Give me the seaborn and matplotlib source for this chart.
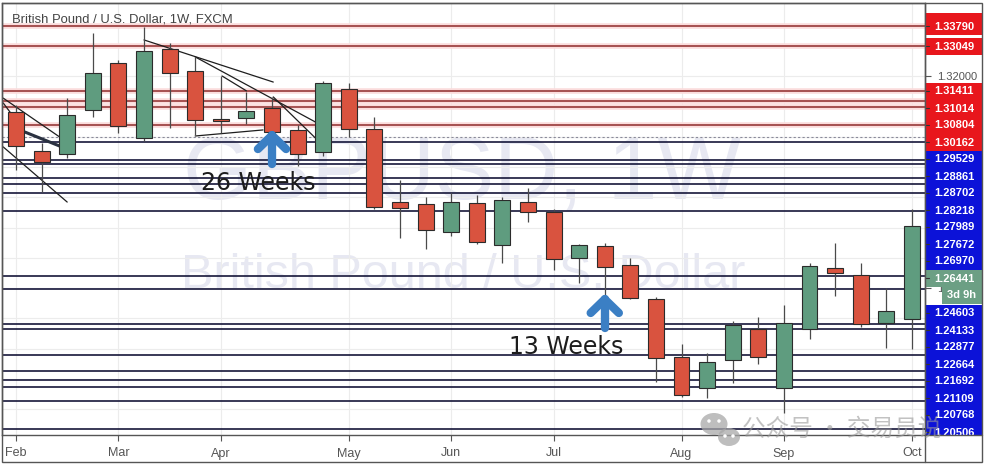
import numpy as np
import pandas as pd
import matplotlib
matplotlib.use("Agg")
import matplotlib.pyplot as plt
from matplotlib.patches import Rectangle, Ellipse
import seaborn as sns

# Weekly GBP/USD candles, Feb - Oct
opens = [1.3081, 1.2953, 1.2943, 1.3088, 1.3243, 1.2995, 1.3289, 1.3217, 1.3058,
         1.3061, 1.3094, 1.3022, 1.2949, 1.3157, 1.3025, 1.2784, 1.2778, 1.2685,
         1.2781, 1.2642, 1.2784, 1.2751, 1.2599, 1.2639, 1.2576, 1.2464, 1.2273,
         1.2170, 1.2263, 1.2365, 1.2170, 1.2365, 1.2566, 1.2543, 1.2385, 1.2398]
highs = [1.3104, 1.2979, 1.3127, 1.3342, 1.3253, 1.3362, 1.3309, 1.3263, 1.3200,
         1.3147, 1.3131, 1.3038, 1.3184, 1.3177, 1.3065, 1.2857, 1.2801, 1.2814,
         1.2807, 1.2801, 1.2830, 1.2761, 1.2646, 1.2649, 1.2599, 1.2471, 1.2316,
         1.2286, 1.2392, 1.2405, 1.2444, 1.2583, 1.2649, 1.2583, 1.2500, 1.2761]
lows = [1.2890, 1.2817, 1.2929, 1.3065, 1.3012, 1.2986, 1.3028, 1.3005, 1.3012,
        1.3042, 1.3012, 1.2903, 1.2936, 1.2999, 1.2761, 1.2665, 1.2629, 1.2672,
        1.2646, 1.2583, 1.2718, 1.2560, 1.2517, 1.2471, 1.2464, 1.2190, 1.2141,
        1.2137, 1.2187, 1.2250, 1.2088, 1.2332, 1.2474, 1.2372, 1.2302, 1.2299]
closes = [1.2969, 1.2916, 1.3071, 1.3210, 1.3035, 1.3283, 1.3210, 1.3055, 1.3052,
          1.3085, 1.3015, 1.2943, 1.3177, 1.3025, 1.2768, 1.2764, 1.2692, 1.2784,
          1.2652, 1.2791, 1.2751, 1.2596, 1.2642, 1.2570, 1.2467, 1.2269, 1.2147,
          1.2256, 1.2378, 1.2273, 1.2385, 1.2573, 1.2550, 1.2382, 1.2425, 1.2705]
week_start = pd.date_range("2019-02-04", periods=len(opens), freq="W-MON")

# horizontal levels drawn on the chart
resistance_levels = [1.3365, 1.3299, 1.3151, 1.3118, 1.3098, 1.3038]
support_levels = [1.2982, 1.2923, 1.2910, 1.2863, 1.2844, 1.2814, 1.2755, 1.2540,
                  1.2497, 1.2382, 1.2365, 1.2279, 1.2227, 1.2197, 1.2174, 1.2128, 1.2035]
dotted_level = 1.2999

# price labels stacked on the right scale
red_top_labels = ["1.33790", "1.33049"]
red_block_labels = ["1.31411", "1.31014", "1.30804", "1.30162"]
blue_block_labels = ["1.29529", "1.28861", "1.28702", "1.28218", "1.27989", "1.27672", "1.26970"]
last_price_label = "1.26441"
countdown_label = "3d 9h"
blue_low_labels = ["1.24603", "1.24133", "1.22877", "1.22664", "1.21692", "1.21109", "1.20768", "1.20506"]
shown_ticks = [1.32, 1.25]   # the only scale ticks not hidden under labels

# hand drawn trend lines: (x0, y0, x1, y1) in bar index / price
trend_thin = [(5.0, 1.3319, 10.05, 1.3180), (7.0, 1.3263, 11.7, 1.3048),
              (8.05, 1.3200, 9.0, 1.3151), (10.05, 1.3131, 11.7, 1.2995),
              (7.0, 1.3002, 9.65, 1.3022), (-0.5, 1.3127, 1.7, 1.2999),
              (-0.5, 1.3111, 0.35, 1.3015), (-0.5, 1.2966, 2.0, 1.2784)]
trend_thick = [(0.35, 1.3015, 1.7, 1.2969)]

# arrow annotations: bar index, text, text offset in bars
notes = [(10, "26 Weeks", -0.55), (23, "13 Weeks", -1.5)]

RED, GREEN = "#d9533f", "#5f9c7f"
LBL_RED, LBL_BLUE, LBL_GREEN = "#e8161c", "#0c12d8", "#6c9f84"

sns.set_theme(style="white")
plt.rcParams["font.family"] = ["Liberation Sans", "Noto Sans CJK SC", "DejaVu Sans"]

W, H = 985, 467
fig = plt.figure(figsize=(W / 100, H / 100), dpi=100)
ax = fig.add_axes([2 / W, (H - 435) / H, 923 / W, 432 / H])

x = np.arange(len(opens))
o, h, l, c = map(np.array, (opens, highs, lows, closes))
up = c >= o

# watermark
wm = "#e7e8f2"
ax.text(0.498, 0.60, "GBPUSD, 1W", transform=ax.transAxes, fontsize=64, color=wm,
        ha="center", va="center", zorder=0)
ax.text(0.50, 0.37, "British Pound / U.S. Dollar", transform=ax.transAxes, fontsize=35,
        color=wm, ha="center", va="center", zorder=0)

# levels
for lv in resistance_levels:
    ax.axhline(lv, color="#fbdcdc", lw=4, zorder=1)
    ax.axhline(lv, color="#8e2a2a", lw=1.1, zorder=1.1)
for lv in support_levels:
    ax.axhline(lv, color="#16163a", lw=1.2, zorder=1.1)
ax.axhline(dotted_level, color="#8a8a9a", lw=0.8, ls=(0, (2, 2)), zorder=1.1)

# trend lines
def seg_frame(segs):
    rows = []
    for k, (x0, y0, x1, y1) in enumerate(segs):
        rows += [(k, x0, y0), (k, x1, y1)]
    return pd.DataFrame(rows, columns=["seg", "x", "y"])

sns.lineplot(data=seg_frame(trend_thin), x="x", y="y", units="seg", estimator=None,
             color="#1e1e1e", lw=0.9, ax=ax, legend=False, zorder=2)
sns.lineplot(data=seg_frame(trend_thick), x="x", y="y", units="seg", estimator=None,
             color="#2a3140", lw=2.2, ax=ax, legend=False, zorder=2)

# candles
ax.vlines(x, l, h, color="#4a4a4a", lw=0.9, zorder=3)
body = np.where(np.abs(c - o) < 0.0006, 0.0006, c - o)
ax.bar(x, body, bottom=o, width=0.62, color=np.where(up, GREEN, RED),
       edgecolor="#2b2b2b", linewidth=0.8, zorder=4)

# arrows + labels
for i, txt, dx in notes:
    tip = l[i] - 0.0008
    kw = dict(color="#3b7fc4", lw=6, solid_capstyle="round", zorder=5)
    ax.plot([i, i], [tip, tip - 0.0095], **kw)
    ax.plot([i - 0.55, i, i + 0.55], [tip - 0.0045, tip, tip - 0.0045], solid_joinstyle="round", **kw)
    ax.text(i + dx, tip - 0.0158, txt, fontsize=17, color="#1c1c1c", ha="center",
            va="center", family="DejaVu Sans", zorder=6)

ax.text(0.0108, 0.961, "British Pound / U.S. Dollar, 1W, FXCM", transform=ax.transAxes,
        fontsize=9.4, color="#444444", va="center", ha="left", zorder=6)

# axes cosmetics
ax.set_xlim(-0.547, 35.51)
ax.set_ylim(1.20153, 1.34409)
month_pos = [k for k in range(len(week_start)) if k == 0 or week_start[k].month != week_start[k - 1].month]
ax.set_xticks(month_pos)
ax.set_xticklabels([week_start[k].strftime("%b") for k in month_pos])
yt = np.round(np.arange(1.21, 1.3301, 0.01), 2)
ax.set_yticks(yt)
ax.set_yticklabels([f"{v:.5f}" if v in shown_ticks else "" for v in yt])
ax.yaxis.tick_right()
ax.tick_params(axis="x", length=4, width=0.8, color="#555555", labelsize=9, labelcolor="#555555", pad=5,
               bottom=True)
ax.tick_params(axis="y", length=4, width=0.8, color="#555555", labelsize=8, labelcolor="#555555", pad=5,
               right=True)
ax.grid(True, color="#ececec", lw=0.8, zorder=0)
ax.set_axisbelow(True)
ax.set_xlabel("")
ax.set_ylabel("")
for s in ax.spines.values():
    s.set_color("#555555")
    s.set_linewidth(1)

# overlay in pixel space for right scale labels and frame
ov = fig.add_axes([0, 0, 1, 1])
ov.set_xlim(0, W)
ov.set_ylim(H, 0)
ov.axis("off")
ov.patch.set_alpha(0)

LH = 17

def stack(labels, y0, color, tick=True):
    for k, t in enumerate(labels):
        yc = y0 + k * LH
        ov.add_patch(Rectangle((926, yc - LH / 2), 56, LH, color=color, lw=0, zorder=3))
        ov.text(934, yc + 0.5, t, color="white", fontsize=8, weight="bold", va="center",
                ha="left", zorder=4)
        if tick:
            ov.plot([925, 929], [yc, yc], color="#333333", lw=0.8, zorder=5)

ov.add_patch(Rectangle((926, 13), 56, 5, color=LBL_RED, lw=0, zorder=3))
stack(red_top_labels[:1], 26, LBL_RED)
stack(red_top_labels[1:], 46, LBL_RED)
stack(red_block_labels, 91, LBL_RED)
stack(blue_block_labels, 159, LBL_BLUE)
stack([last_price_label], 278, LBL_GREEN)
ov.add_patch(Rectangle((942, 287), 40, LH, color=LBL_GREEN, lw=0, zorder=3))
ov.text(947, 295.5, countdown_label, color="white", fontsize=8, weight="bold", va="center", zorder=4)
stack(blue_low_labels, 313, LBL_BLUE)

# bottom-right empty box and frame
ov.add_patch(Rectangle((925.5, 435.5), 57, 26, color="white", lw=0, zorder=6))
ov.plot([925, 982], [435, 435], color="#555555", lw=1, zorder=7)
ov.plot([925, 925], [3, 462], color="#555555", lw=1, zorder=7)
ov.add_patch(Rectangle((2, 3), 980, 459, fill=False, edgecolor="#555555", lw=1, zorder=7))

# WeChat watermark
ov.add_patch(Ellipse((714, 424), 27, 22, color="#a8a8a8", alpha=0.75, lw=0, zorder=9))
ov.add_patch(Ellipse((729, 437), 22, 18, color="#a8a8a8", alpha=0.75, lw=0, zorder=9))
for ex, ey in [(709, 421), (719, 421), (725, 436), (733, 436)]:
    ov.add_patch(Ellipse((ex, ey), 3.5, 3.5, color="white", lw=0, zorder=10))
ov.text(742, 429, "公众号 · 交易员说", fontsize=17, color="#9a9a9a", alpha=0.6,
        family=["Noto Sans CJK SC", "DejaVu Sans"], va="center", ha="left", zorder=10)

fig.savefig("out.png", dpi=100)
